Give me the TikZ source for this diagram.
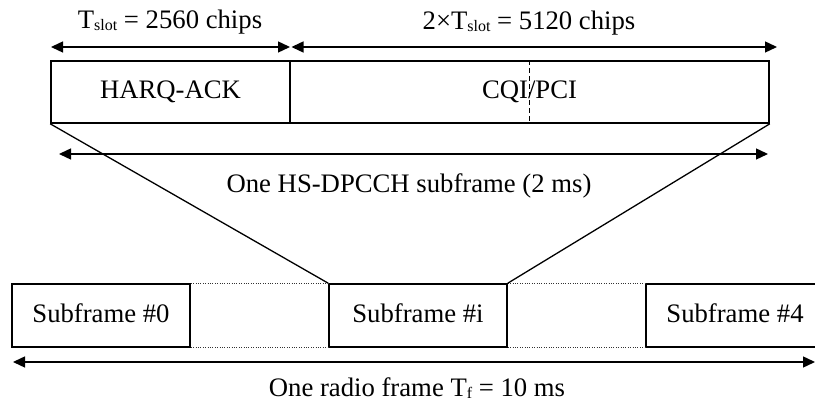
\documentclass[tikz,border=0pt]{standalone}
\usepackage{fontspec}
\setmainfont{Liberation Serif}
\usetikzlibrary{arrows.meta}
\newcommand{\subtxt}[1]{\raisebox{-1.5pt}{\fontsize{16}{16}\selectfont #1}}
\begin{document}
\begin{tikzpicture}[x=1pt,y=-1pt,
  box/.style={draw, line width=1.6pt, rectangle, inner sep=0pt, minimum height=62pt,
    text height=14pt, text depth=0pt, font=\fontsize{26.7}{26.7}\selectfont},
  lbl/.style={font=\fontsize{26.7}{26.7}\selectfont, inner sep=0pt, anchor=base},
  tip/.tip={Triangle[length=12pt,width=11pt]},
  dim/.style={line width=1.4pt, tip-tip},
  gap/.style={line width=1.2pt, black!80, dash pattern=on 1pt off 1.4pt},
  fan/.style={line width=1.3pt}]
\useasboundingbox (0,0) rectangle (815,403);
% top subframe
\node[box, minimum width=239pt] (harq) at (170.5,92) {HARQ-ACK};
\node[box, minimum width=479pt] (cqi) at (529.5,92) {CQI/PCI};
\draw[line width=1.4pt, dash pattern=on 5pt off 3pt] (cqi.north) -- (cqi.south);
% top dimension arrows
\coordinate (t1) at (51,47);
\coordinate (t2) at (290,47);
\coordinate (t3) at (291.5,47);
\coordinate (t4) at (777,47);
\draw[dim] (t1) -- (t2);
\draw[dim] (t3) -- (t4);
\node[lbl] (lslot) at (170,29) {T\subtxt{slot} = 2560 chips};
\node[lbl] (lslot2) at (529,30) {2×T\subtxt{slot} = 5120 chips};
% HS-DPCCH subframe arrow
\coordinate (h1) at (59,154);
\coordinate (h2) at (768,154);
\draw[dim] (h1) -- (h2);
\node[lbl] (lhs) at (409,193) {One HS-DPCCH subframe (2 ms)};
% bottom radio frame
\node[box, minimum width=178pt, minimum height=63pt] (sf0) at (101,315.5) {Subframe \#0};
\node[box, minimum width=178pt, minimum height=63pt] (sfi) at (418,315.5) {Subframe \#i};
\node[box, minimum width=178pt, minimum height=63pt] (sf4) at (735,315.5) {Subframe \#4};
\draw[gap] (sf0.north east) -- (sfi.north west);
\draw[gap] (sf0.south east) -- (sfi.south west);
\draw[gap] (sfi.north east) -- (sf4.north west);
\draw[gap] (sfi.south east) -- (sf4.south west);
% fan lines
\draw[fan] (harq.south west) -- (sfi.north west);
\draw[fan] (cqi.south east) -- (sfi.north east);
% radio frame arrow
\coordinate (r1) at (13,362);
\coordinate (r2) at (815,362);
\draw[dim] (r1) -- (r2);
\node[lbl] (lrf) at (417,397) {One radio frame T\subtxt{f} = 10 ms};
\end{tikzpicture}
\end{document}
